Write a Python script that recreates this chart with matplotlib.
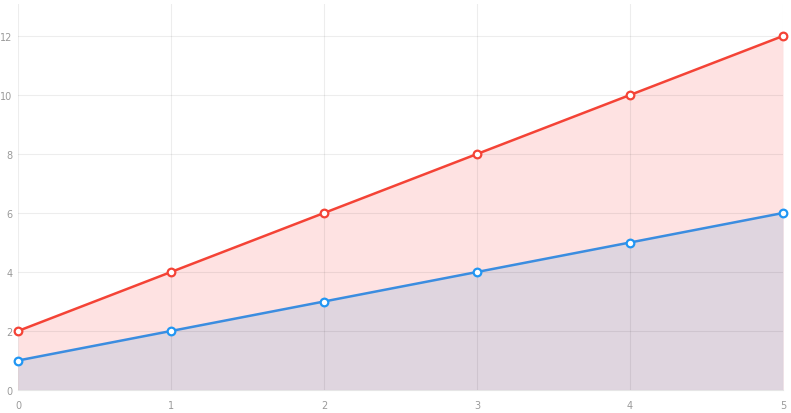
import matplotlib
matplotlib.use("Agg")
import matplotlib.pyplot as plt

x_values = [0, 1, 2, 3, 4, 5]
red_series = [2, 4, 6, 8, 10, 12]
blue_series = [1, 2, 3, 4, 5, 6]
y_ticks = [0, 2, 4, 6, 8, 10, 12]

fig = plt.figure(figsize=(7.91, 4.14), dpi=100)
ax = fig.add_axes([18/791, 23/414, (783-18)/791, (391-5)/414])
ax.set_xlim(0, 5)
ax.set_ylim(0, 386/29.5)

ax.fill_between(x_values, 0, red_series, color="#fee2e2", linewidth=0, zorder=1)
ax.fill_between(x_values, 0, blue_series, color="#dfd5df", linewidth=0, zorder=2)

ax.plot(x_values, red_series, color="#f44336", lw=1.8, marker="o", ms=5.5,
        mfc="white", mec="#f44336", mew=1.6, zorder=5, clip_on=False)
ax.plot(x_values, blue_series, color="#3b8de0", lw=1.8, marker="o", ms=5.5,
        mfc="white", mec="#2196f3", mew=1.6, zorder=5, clip_on=False)

ax.set_xticks(x_values)
ax.set_yticks(y_ticks)
ax.set_axisbelow(False)
ax.grid(True, color="black", alpha=0.07, lw=0.8, zorder=3)
for gl in ax.get_xgridlines() + ax.get_ygridlines():
    gl.set_zorder(3)
for s in ["top", "right", "left"]:
    ax.spines[s].set_visible(False)
ax.spines["bottom"].set_color("#e6e6e6")
ax.spines["bottom"].set_linewidth(0.8)
ax.tick_params(axis="both", length=0, labelsize=7, labelcolor="#9a9a9a")
ax.tick_params(axis="y", pad=4)
ax.tick_params(axis="x", pad=7)

fig.savefig("out.png", dpi=100, facecolor="white")
